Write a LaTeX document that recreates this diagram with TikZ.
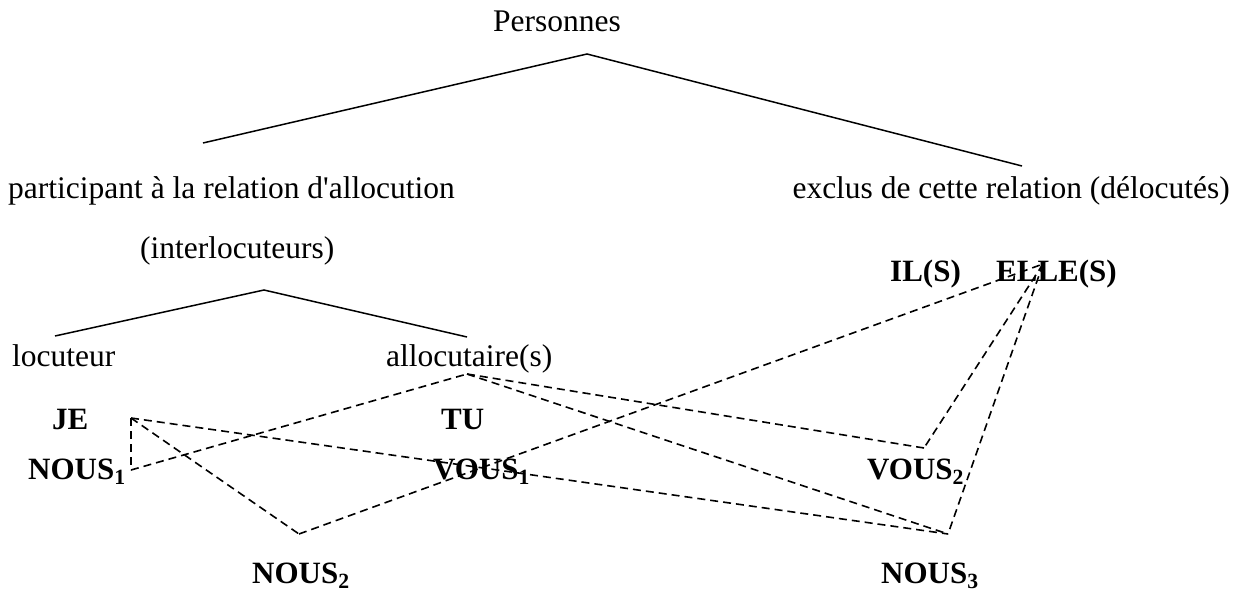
\documentclass[tikz,border=0pt]{standalone}
\usepackage{fontspec}
\setmainfont{Liberation Serif}
\begin{document}
\begin{tikzpicture}[x=1pt,y=-1pt,
  lbl/.style={anchor=base west,inner sep=0pt,font=\fontsize{31.5}{36}\selectfont},
  blbl/.style={anchor=base west,inner sep=0pt,font=\fontsize{31}{36}\selectfont\bfseries},
  tree/.style={line width=1.5pt},
  link/.style={line width=1.6pt,dash pattern=on 8pt off 5pt}]
\useasboundingbox (0,0) rectangle (1248,594);
% texts
\node[lbl,anchor=base] (pers) at (557,32) {Personnes};
\node[lbl] (part) at (8,198) {participant à la relation d\textquotesingle allocution};
\node[lbl,anchor=base east] (excl) at (1230,198) {exclus de cette relation (délocutés)};
\node[lbl] (inter) at (140,258) {(interlocuteurs)};
\node[blbl] (ils) at (890,281) {IL(S)};
\node[blbl] (elles) at (996,281) {ELLE(S)};
\node[lbl] (loc) at (12,366) {locuteur};
\node[lbl] (alloc) at (386,366) {allocutaire(s)};
\node[blbl] (je) at (52,429) {JE};
\node[blbl] (tu) at (441,429) {TU};
\node[blbl] (nous1) at (28,479) {NOUS\textsubscript{1}};
\node[blbl] (vous1) at (433,479) {VOUS\textsubscript{1}};
\node[blbl] (vous2) at (867,479) {VOUS\textsubscript{2}};
\node[blbl] (nous2) at (252,583) {NOUS\textsubscript{2}};
\node[blbl] (nous3) at (881,583) {NOUS\textsubscript{3}};
% tree points
\coordinate (p0) at (587,54);
\coordinate (p1) at (203,143);
\coordinate (p2) at (1022,166);
\coordinate (i0) at (264,290);
\coordinate (i1) at (55,336);
\coordinate (i2) at (467,337);
\draw[tree] (p1) -- (p0) -- (p2);
\draw[tree] (i1) -- (i0) -- (i2);
% link points
\coordinate (J) at (131,418);
\coordinate (N1) at (131,470);
\coordinate (A) at (467,374);
\coordinate (N2) at (299,534);
\coordinate (V2) at (924,448);
\coordinate (N3) at (948,534);
\coordinate (E) at (1043,264);
\draw[link] (J) -- (N1);
\draw[link] (N1) -- (A);
\draw[link] (J) -- (N2);
\draw[link] (J) -- (N3);
\draw[link] (N2) -- (E);
\draw[link] (A) -- (V2);
\draw[link] (A) -- (N3);
\draw[link] (E) -- (V2);
\draw[link] (E) -- (N3);
\end{tikzpicture}
\end{document}
